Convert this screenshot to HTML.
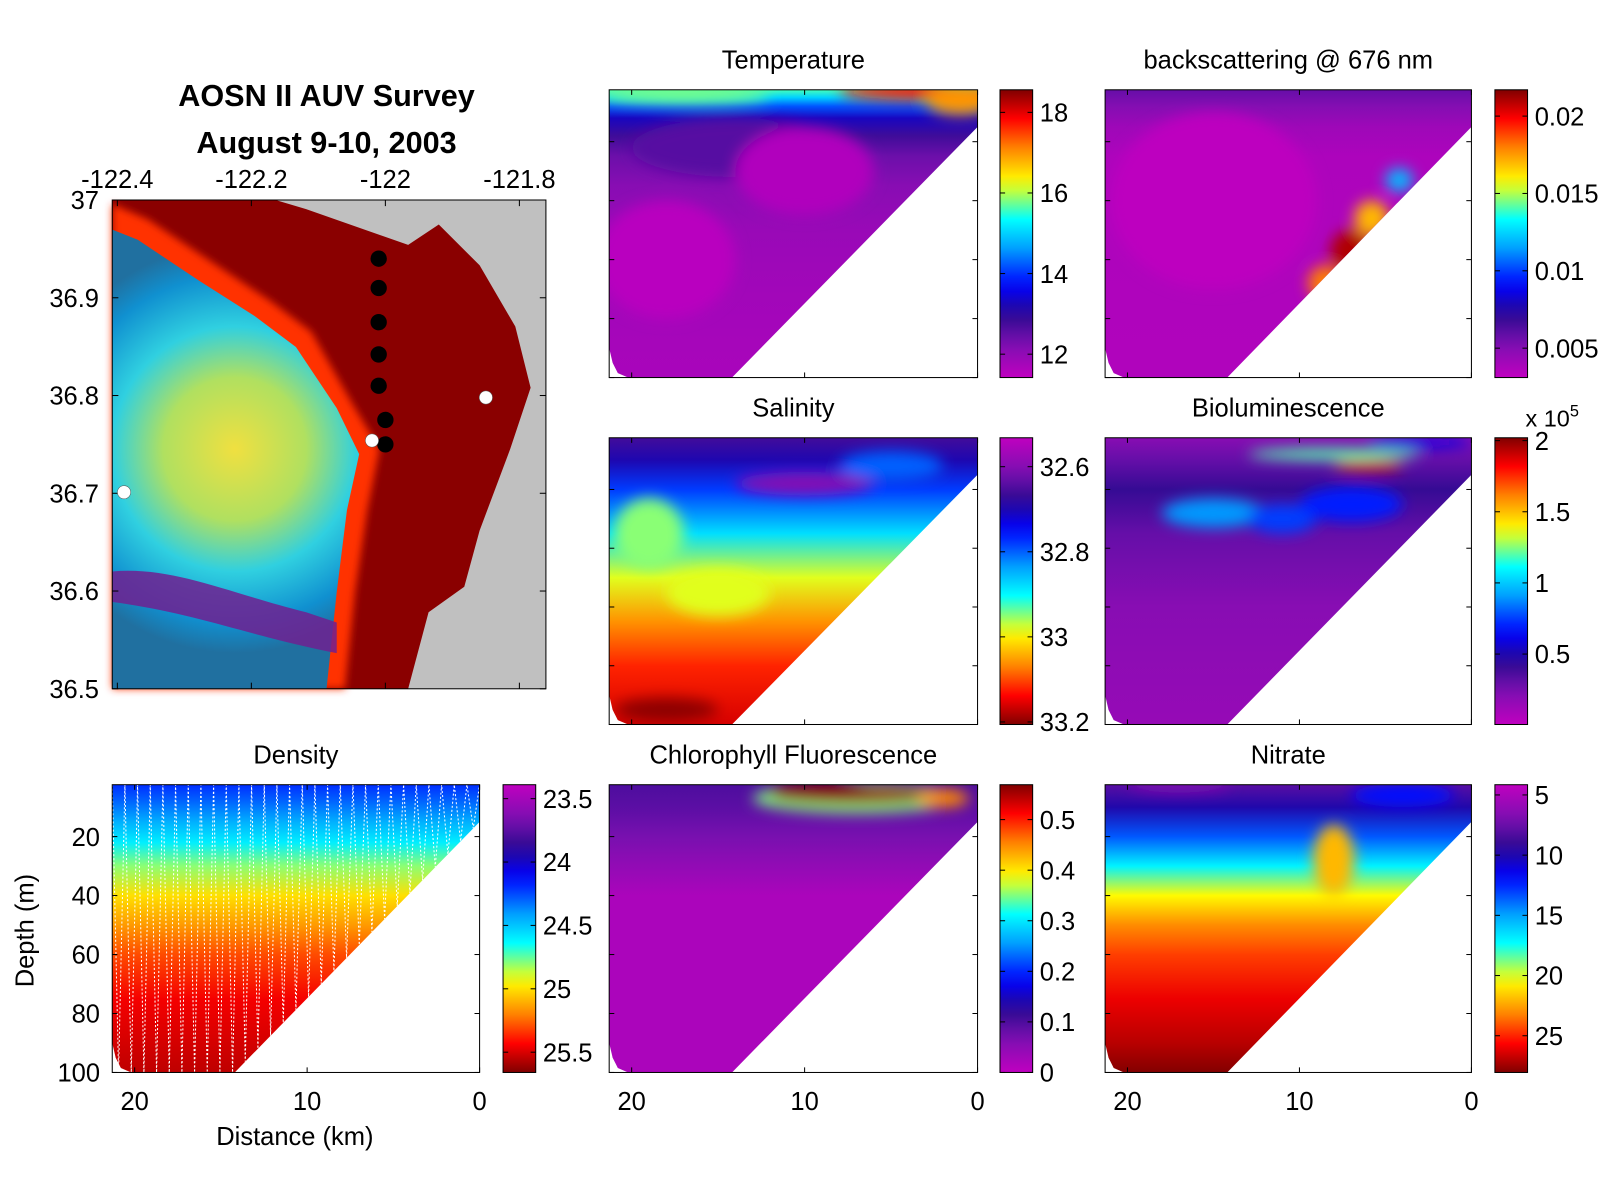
<!DOCTYPE html>
<html><head><meta charset="utf-8"><style>
html,body{margin:0;padding:0;background:#fff;}
svg{display:block;font-family:"Liberation Sans",Arial,sans-serif;}
</style></head><body>
<svg id="fig" width="1600" height="1199" viewBox="0 0 1568 1175" preserveAspectRatio="none" xmlns="http://www.w3.org/2000/svg">
<defs>
<filter id="blur" x="-50%" y="-50%" width="200%" height="200%"><feGaussianBlur stdDeviation="7"/></filter>
<filter id="blur2" x="-50%" y="-50%" width="200%" height="200%"><feGaussianBlur stdDeviation="4"/></filter>
<radialGradient id="mapGrad" cx="230" cy="440" r="200" gradientUnits="userSpaceOnUse">
<stop offset="0" stop-color="#f0e040"/><stop offset="0.35" stop-color="#b0e060"/><stop offset="0.6" stop-color="#30d0e0"/><stop offset="0.85" stop-color="#1090d0"/><stop offset="1" stop-color="#2070a0"/>
</radialGradient>
</defs>
<g id="map">
<text x="320" y="104" text-anchor="middle" font-size="30" font-weight="bold">AOSN II AUV Survey</text>
<text x="320" y="150" text-anchor="middle" font-size="30" font-weight="bold">August 9-10, 2003</text>
<rect x="110" y="196" width="425" height="479" fill="#c0c0c0"/>
<path d="M110,196 L270,196 L300,205 L400,240 L430,220 L470,260 L505,320 L520,380 L500,440 L470,520 L455,575 L420,600 L400,675 L110,675 Z" fill="#8a0000"/>
<path d="M110,200 L145,215 L205,255 L265,295 L305,325 L345,395 L372,440 L360,500 L348,580 L338,675 L110,675 Z" fill="#ff3000" filter="url(#blur2)"/>
<path d="M110,225 L135,235 L195,275 L250,310 L290,340 L330,400 L352,445 L340,500 L330,580 L320,675 L110,675 Z" fill="url(#mapGrad)"/>
<path d="M110,560 C170,555 220,580 300,600 L330,610 L330,640 C250,625 190,600 110,590 Z" fill="#702090" opacity="0.85"/>
<rect x="110" y="196" width="425" height="479" fill="none" stroke="#000" stroke-width="1"/>
<g id="mapAxes"></g>
<g id="mapPoints"></g>
</g>
<g id="sections"></g>
<text x="289" y="1122" text-anchor="middle" font-size="25">Distance (km)</text>
<text x="0" y="0" transform="translate(33,912) rotate(-90)" text-anchor="middle" font-size="25">Depth (m)</text>
</svg>
<script>
// ---------- data ----------
const mapLonTicks=[-122.4,-122.2,-122,-121.8];
const mapLatTicks=[37,36.9,36.8,36.7,36.6,36.5];
const stationLons=[-122.01,-122.01,-122.01,-122.01,-122.01,-122.0,-122.0];
const stationLats=[36.94,36.91,36.875,36.842,36.81,36.775,36.75];
const mooringLons=[-121.85,-122.02,-122.39];
const mooringLats=[36.798,36.754,36.701];

const distTicks=[20,10,0];
const depthTicks=[20,40,60,80,100];

const tempDepths=[2.4,5,8,12,18,25,35,50,70,100];
const tempVals=[15.6,15.0,14.2,13.3,12.8,12.4,12.1,11.9,11.8,11.7];
const salDepths=[2.4,10,20,35,50,65,80,100];
const salVals=[32.66,32.7,32.78,32.88,32.98,33.06,33.12,33.16];
const bbDepths=[2.4,8,15,25,100];
const bbVals=[0.0058,0.005,0.0042,0.0037,0.0036];
const bioDepths=[2.4,10,20,35,60,100];
const bioVals=[0.2,0.3,0.42,0.3,0.2,0.15];
const denDepths=[2.4,8,15,22,30,40,50,60,75,100];
const denVals=[24.2,24.3,24.45,24.6,24.8,25.0,25.15,25.3,25.45,25.55];
const chlDepths=[2.4,10,20,30,40,100];
const chlVals=[0.1,0.09,0.07,0.045,0.02,0.02];
const no3Depths=[2.4,10,20,30,40,50,60,75,90,100];
const no3Vals=[8,10,13.5,17,20.5,23,24.5,26,27,28];

// blobs: [distance km, depth m, radius km, radius m, value]
const tempBlobs=[[3,3,5,3,17.8],[1,6,2,5,17],[17,4,5,3,15.8],[14,22,6,10,12.6],[10,30,4,15,11.6],[18,60,4,20,11.5]];
const bbBlobs=[[8.5,68,1.0,6,0.018],[7,57,1.2,7,0.021],[5.8,46,1.0,6,0.017],[4.2,33,0.8,4,0.012],[15,40,6,30,0.0032]];
const salBlobs=[[10,18,4,4,32.6],[19,35,2,12,32.95],[15,55,3,8,32.98],[18,95,3,4,33.2],[5,12,3,5,32.8]];
const bioBlobs=[[15,28,3,5,0.9],[11,30,2,5,0.75],[7,25,3,6,0.7],[6,12,2,2,1.9],[8,8,5,2,1.2],[3,4,3,2,0.6]];
const chlBlobs=[[7,7,6,5,0.35],[7,6,5,3,0.56],[2,7,1.5,3,0.45],[9,4,3,2,0.6]];
const no3Blobs=[[8,28,1.2,12,22],[4,6,3,4,12],[17,2,3,3,7]];

const cmapStops=[[0,'#c000c0'],[0.12,'#7a10b0'],[0.22,'#2a0a90'],[0.32,'#0000ff'],[0.45,'#00a0ff'],[0.55,'#00ffff'],[0.68,'#ffff00'],[0.8,'#ff8000'],[0.9,'#ff0000'],[1,'#800000']];

// ---------- helpers ----------
const NS='http://www.w3.org/2000/svg';
function mk(tag,attrs,parent){const e=document.createElementNS(NS,tag);for(const k in attrs)e.setAttribute(k,attrs[k]);if(parent)parent.appendChild(e);return e;}
function hex(c){return [parseInt(c.slice(1,3),16),parseInt(c.slice(3,5),16),parseInt(c.slice(5,7),16)];}
function cmap(t){t=Math.max(0,Math.min(1,t));for(let i=1;i<cmapStops.length;i++){if(t<=cmapStops[i][0]){const a=cmapStops[i-1],b=cmapStops[i];const f=(t-a[0])/(b[0]-a[0]);const ca=hex(a[1]),cb=hex(b[1]);return 'rgb('+ca.map((v,j)=>Math.round(v+(cb[j]-v)*f)).join(',')+')';}}return cmapStops[cmapStops.length-1][1];}

// ---------- map ----------
const mapG=document.getElementById('mapAxes');
const MX=110,MY=196,MW=425,MH=479;
function lonX(l){return 115+(l+122.4)/0.6*(509-115);}
function latY(l){return MY+(37-l)/0.5*MH;}
mapLonTicks.forEach(l=>{const x=lonX(l);
 const t=mk('text',{x:x,y:184,'text-anchor':'middle','font-size':25},mapG);t.textContent=String(l);
 
 
 mk('line',{x1:x,x2:x,y1:MY,y2:MY+6,stroke:'#000'},mapG);mk('line',{x1:x,x2:x,y1:MY+MH,y2:MY+MH-6,stroke:'#000'},mapG);});
mapLatTicks.forEach(l=>{const y=latY(l);
 const t=mk('text',{x:97,y:y+9,'text-anchor':'end','font-size':25},mapG);t.textContent=String(l);
 
 
 mk('line',{x1:MX,x2:MX+6,y1:y,y2:y,stroke:'#000'},mapG);mk('line',{x1:MX+MW,x2:MX+MW-6,y1:y,y2:y,stroke:'#000'},mapG);});
const ptG=document.getElementById('mapPoints');
stationLons.forEach((l,i)=>{const c=mk('circle',{cx:lonX(l),cy:latY(stationLats[i]),r:8,fill:'#000'},ptG);
 
 });
mooringLons.forEach((l,i)=>{const c=mk('circle',{cx:lonX(l),cy:latY(mooringLats[i]),r:6.5,fill:'#fff',stroke:'#555','stroke-width':0.5},ptG);
 
 });

// ---------- sections ----------
const secRoot=document.getElementById('sections');
const DMAX=21.3,ZMIN=2.4,ZMAX=100;
const panels=[
 {name:'temperature',title:'Temperature',x:597,y:88,w:361,h:282,depths:tempDepths,vals:tempVals,blobs:tempBlobs,vP:11.42,vR:18.56,cTop:18.56,cBot:11.42,rev:false,ticks:[18,16,14,12],labels:['18','16','14','12'],cbx:980},
 {name:'backscattering',title:'backscattering @ 676 nm',x:1083,y:88,w:359,h:282,depths:bbDepths,vals:bbVals,blobs:bbBlobs,vP:0.0031,vR:0.0217,cTop:0.0217,cBot:0.0031,rev:false,ticks:[0.02,0.015,0.01,0.005],labels:['0.02','0.015','0.01','0.005'],cbx:1465},
 {name:'salinity',title:'Salinity',x:597,y:429,w:361,h:281,depths:salDepths,vals:salVals,blobs:salBlobs,vP:32.532,vR:33.206,cTop:32.532,cBot:33.206,rev:true,ticks:[32.6,32.8,33,33.2],labels:['32.6','32.8','33','33.2'],cbx:980},
 {name:'bioluminescence',title:'Bioluminescence',x:1083,y:429,w:359,h:281,depths:bioDepths,vals:bioVals,blobs:bioBlobs,vP:0.005,vR:2.02,cTop:2.02,cBot:0.005,rev:false,ticks:[2,1.5,1,0.5],labels:['2','1.5','1','0.5'],cbx:1465},
 {name:'density',title:'Density',x:110,y:769,w:360,h:282,depths:denDepths,vals:denVals,blobs:[],vP:23.39,vR:25.66,cTop:23.39,cBot:25.66,rev:true,ticks:[23.5,24,24.5,25,25.5],labels:['23.5','24','24.5','25','25.5'],cbx:493,yLabels:true},
 {name:'chlorophyll',title:'Chlorophyll Fluorescence',x:597,y:769,w:361,h:282,depths:chlDepths,vals:chlVals,blobs:chlBlobs,vP:0,vR:0.569,cTop:0.569,cBot:0,rev:false,ticks:[0.5,0.4,0.3,0.2,0.1,0],labels:['0.5','0.4','0.3','0.2','0.1','0'],cbx:980},
 {name:'nitrate',title:'Nitrate',x:1083,y:769,w:359,h:282,depths:no3Depths,vals:no3Vals,blobs:no3Blobs,vP:4.15,vR:28.05,cTop:4.15,cBot:28.05,rev:true,ticks:[5,10,15,20,25],labels:['5','10','15','20','25'],cbx:1465},
];
const clipPoly=[[DMAX,ZMIN],[0,ZMIN],[0,15],[14.2,100],[20.2,100],[20.8,98.5],[21.1,95],[DMAX,90]];
panels.forEach((p,pi)=>{
 const g=mk('g',{},secRoot);
 
 
 const xs=d=>p.x+p.w*(DMAX-d)/DMAX, ys=z=>p.y+p.h*(z-ZMIN)/(ZMAX-ZMIN);
 const colorOf=v=>cmap((v-p.vP)/(p.vR-p.vP));
 const defs=mk('defs',{},g);
 const cp=mk('clipPath',{id:'clip'+pi},defs);
 mk('polygon',{points:clipPoly.map(q=>xs(q[0])+','+ys(q[1])).join(' ')},cp);
 const lg=mk('linearGradient',{id:'grad'+pi,gradientUnits:'userSpaceOnUse',x1:0,x2:0,y1:ys(ZMIN),y2:ys(ZMAX)},defs);
 p.depths.forEach((z,i)=>mk('stop',{offset:(z-ZMIN)/(ZMAX-ZMIN),'stop-color':colorOf(p.vals[i])},lg));
 const field=mk('g',{'clip-path':'url(#clip'+pi+')'},g);
 
 
 mk('rect',{x:p.x,y:p.y,width:p.w,height:p.h,fill:'url(#grad'+pi+')'},field);
 const bg=mk('g',{filter:'url(#blur)'},field);
 p.blobs.forEach(b=>{const e=mk('ellipse',{cx:xs(b[0]),cy:ys(b[1]),rx:b[2]*p.w/DMAX,ry:b[3]*p.h/(ZMAX-ZMIN),fill:colorOf(b[4])},bg);
  
  });
 if(p.name==='density'){
  let pts=[];const bot=d=>Math.min(100,15+85*d/14.2);
  for(let k=0;k<=58;k++){const d=DMAX-k*DMAX/58;const z=(k%2===0)?ZMIN:bot(d);pts.push(xs(d)+','+ys(z));}
  const pl=mk('polyline',{points:pts.join(' '),fill:'none',stroke:'#fff','stroke-width':1,'stroke-dasharray':'2 2'},field);
  
  
 }
 mk('rect',{x:p.x,y:p.y,width:p.w,height:p.h,fill:'none',stroke:'#000','stroke-width':1},g);
 const tt=mk('text',{x:p.x+p.w/2,y:p.y-21,'text-anchor':'middle','font-size':25},g);tt.textContent=p.title;
 
 
 depthTicks.forEach(z=>{const y=ys(z);mk('line',{x1:p.x,x2:p.x+5,y1:y,y2:y,stroke:'#000'},g);mk('line',{x1:p.x+p.w,x2:p.x+p.w-5,y1:y,y2:y,stroke:'#000'},g);
  if(p.yLabels){const t=mk('text',{x:p.x-12,y:y+9,'text-anchor':'end','font-size':25},g);t.textContent=String(z);
   
   }});
 distTicks.forEach(d=>{const x=xs(d);mk('line',{x1:x,x2:x,y1:p.y+p.h,y2:p.y+p.h-5,stroke:'#000'},g);mk('line',{x1:x,x2:x,y1:p.y,y2:p.y+5,stroke:'#000'},g);
  if(p.y>700){const t=mk('text',{x:x,y:1088,'text-anchor':'middle','font-size':25},g);t.textContent=String(d);
   
   }});
 const cg=mk('linearGradient',{id:'cb'+pi,gradientUnits:'userSpaceOnUse',x1:0,x2:0,y1:p.y,y2:p.y+p.h},defs);
 for(let i=0;i<=20;i++){const v=p.cTop+(p.cBot-p.cTop)*i/20;mk('stop',{offset:i/20,'stop-color':colorOf(v)},cg);}
 const cb=mk('rect',{x:p.cbx,y:p.y,width:32,height:p.h,fill:'url(#cb'+pi+')',stroke:'#000','stroke-width':1},g);
 
 
 const cy=v=>p.y+p.h*(v-p.cTop)/(p.cBot-p.cTop);
 p.ticks.forEach((v,i)=>{const y=cy(v);mk('line',{x1:p.cbx+32,x2:p.cbx+27,y1:y,y2:y,stroke:'#000'},g);mk('line',{x1:p.cbx,x2:p.cbx+5,y1:y,y2:y,stroke:'#000'},g);
  const t=mk('text',{x:p.cbx+39,y:y+9,'font-size':25},g);t.textContent=p.labels[i];
  
  });
 if(p.name==='bioluminescence'){const t=mk('text',{x:1495,y:418,'font-size':23},g);t.innerHTML='x 10<tspan dy="-10" font-size="16">5</tspan>';
  
  }
});
</script>
</body></html>
